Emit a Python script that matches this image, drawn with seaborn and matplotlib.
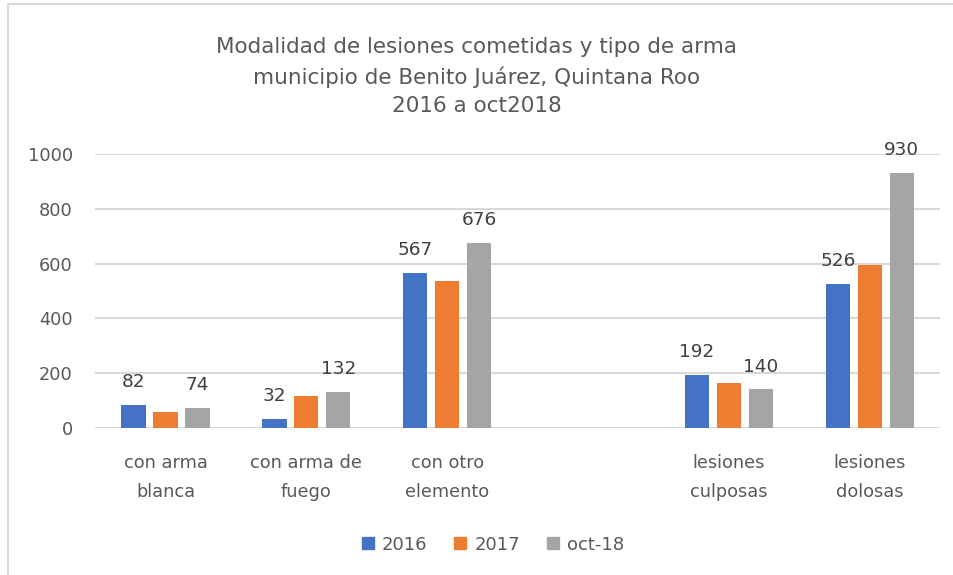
import pandas as pd
import matplotlib
matplotlib.use("Agg")
import matplotlib.pyplot as plt
import seaborn as sns
from matplotlib.lines import Line2D

# data
categories = ["con arma\nblanca", "con arma de\nfuego", "con otro\nelemento", " ",
              "lesiones\nculposas", "lesiones\ndolosas"]
data_categories = ["con arma\nblanca", "con arma de\nfuego", "con otro\nelemento",
                   "lesiones\nculposas", "lesiones\ndolosas"]
series = ["2016", "2017", "oct-18"]
vals_2016 = [82, 32, 567, 192, 526]
vals_2017 = [58, 116, 537, 163, 596]
vals_oct18 = [74, 132, 676, 140, 930]
colors = ["#4472C4", "#ED7D31", "#A5A5A5"]

rows = []
for s, vals in zip(series, [vals_2016, vals_2017, vals_oct18]):
    for c, v in zip(data_categories, vals):
        rows.append({"cat": c, "serie": s, "valor": v})
df = pd.DataFrame(rows)

sns.set_style("white")
plt.rcParams["font.family"] = ["DejaVu Sans"]
text_col = "#595959"

fig = plt.figure(figsize=(9.54, 5.75), dpi=100)
ax = fig.add_axes([0.0996, 0.256, 0.886, 0.476])

sns.barplot(data=df, x="cat", y="valor", hue="serie", order=categories,
            hue_order=series, palette=colors, width=0.68, gap=0.24,
            saturation=1, ax=ax, legend=False, edgecolor="none")

ax.set_ylim(0, 1000)
ax.set_yticks(range(0, 1001, 200))
ax.yaxis.grid(True, color="#d9d9d9", linewidth=1.5)
ax.set_axisbelow(True)
for sp in ax.spines.values():
    sp.set_visible(False)
ax.set_xlabel("")
ax.set_ylabel("")
ax.tick_params(axis="y", length=0, pad=16, labelsize=12.8, labelcolor=text_col)
ax.tick_params(axis="x", length=0, pad=19, labelsize=12.8, labelcolor=text_col)
for lab in ax.get_xticklabels():
    lab.set_linespacing(1.78)

# labels only on 2016 and oct-18
for i in [0, 2]:
    ax.bar_label(ax.containers[i], fmt="%d", padding=10, fontsize=13.3, color="#404040")

fig.suptitle("Modalidad de lesiones cometidas y tipo de arma\n"
             "municipio de Benito Juárez, Quintana Roo\n2016 a oct2018",
             y=0.935, fontsize=15.5, color=text_col, linespacing=1.5)

handles = [Line2D([0], [0], marker="s", linestyle="", markersize=9,
                  markerfacecolor=c, markeredgecolor=c) for c in colors]
fig.legend(handles, series, loc="center", bbox_to_anchor=(0.515, 0.053), ncol=3,
           frameon=False, fontsize=13, labelcolor=text_col, handletextpad=0.3,
           columnspacing=1.3, handlelength=1.0)

# chart border
fig.add_artist(Line2D([0.0084, 0.0084], [0, 0.993], color="#d9d9d9", lw=1.5))
fig.add_artist(Line2D([0.0084, 1.0], [0.993, 0.993], color="#d9d9d9", lw=1.5))

fig.savefig("out.png", dpi=100)
